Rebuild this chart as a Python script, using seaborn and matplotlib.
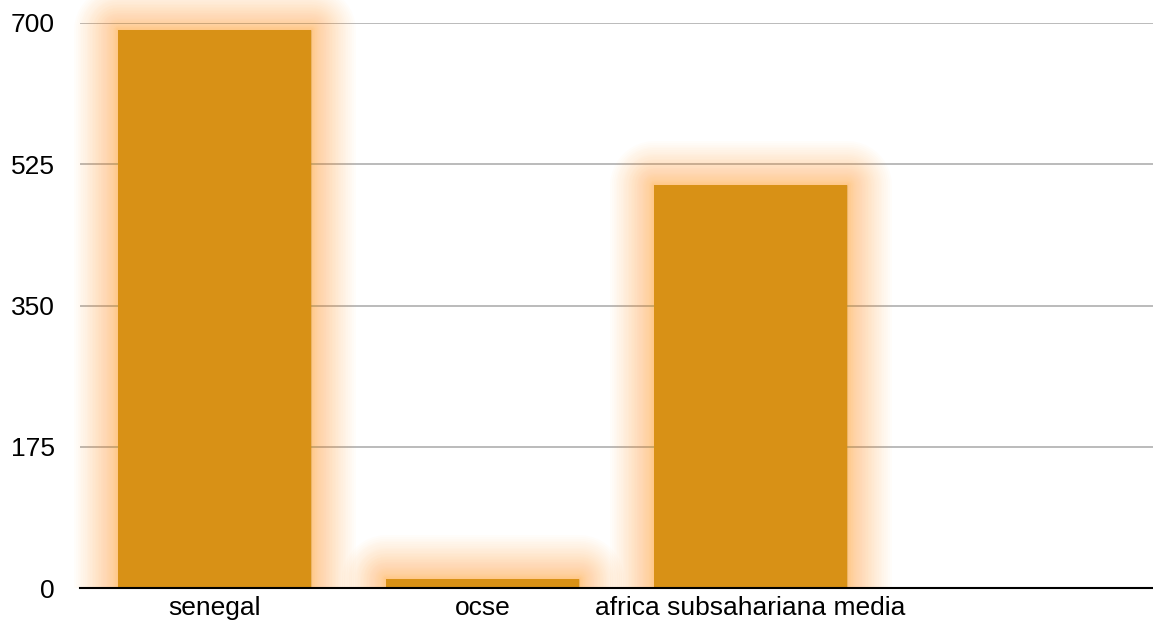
import numpy as np
import pandas as pd
import seaborn as sns
import matplotlib
matplotlib.use("Agg")
import matplotlib.pyplot as plt
import matplotlib.patheffects as pe
from matplotlib.transforms import Bbox

categories = ["senegal", "ocse", "africa subsahariana media"]
values = [691, 11, 499]
y_ticks = [0, 175, 350, 525, 700]

df = pd.DataFrame({"paese": categories, "valore": values})

sns.set_style("white")
plt.rcParams["font.family"] = ["Liberation Sans", "DejaVu Sans"]

W, H = 1153, 631
fig = plt.figure(figsize=(W / 100, H / 100), dpi=100)
ax = fig.add_axes([80 / W, 43 / H, 1073 / W, 565 / H])

sns.barplot(data=df, x="paese", y="valore", color="#D89116", saturation=1,
            width=0.72, ax=ax, zorder=3)

# soft orange glow around bars (denser strokes near the bar edge)
glow = []
for t in np.linspace(1, 0, 36):
    w = 2 + 62 * t ** 1.6
    glow.append(pe.Stroke(linewidth=w, foreground="#FFA62E", alpha=0.02,
                          joinstyle="round"))
glow.append(pe.Normal())
clip = Bbox.from_extents(0, 43, W, H)
for bar in ax.patches:
    bar.set_edgecolor("none")
    bar.set_path_effects(glow)
    bar.set_clip_on(True)
    bar.set_clip_box(clip)

ax.set_xlim(-0.5, 3.5)
ax.set_ylim(0, 700)
ax.set_yticks(y_ticks)
ax.yaxis.grid(True, color="#BBBBBB", linewidth=1.4, zorder=1)
ax.set_axisbelow(True)

for s in ["top", "right", "left"]:
    ax.spines[s].set_visible(False)
ax.spines["bottom"].set_color("black")
ax.spines["bottom"].set_linewidth(1.5)
ax.spines["bottom"].set_zorder(5)

ax.tick_params(axis="y", length=0, pad=18, labelsize=19, labelcolor="black")
ax.tick_params(axis="x", length=0, pad=6, labelsize=19, labelcolor="black")
ax.set_xlabel("")
ax.set_ylabel("")

fig.savefig("out.png", dpi=100)
